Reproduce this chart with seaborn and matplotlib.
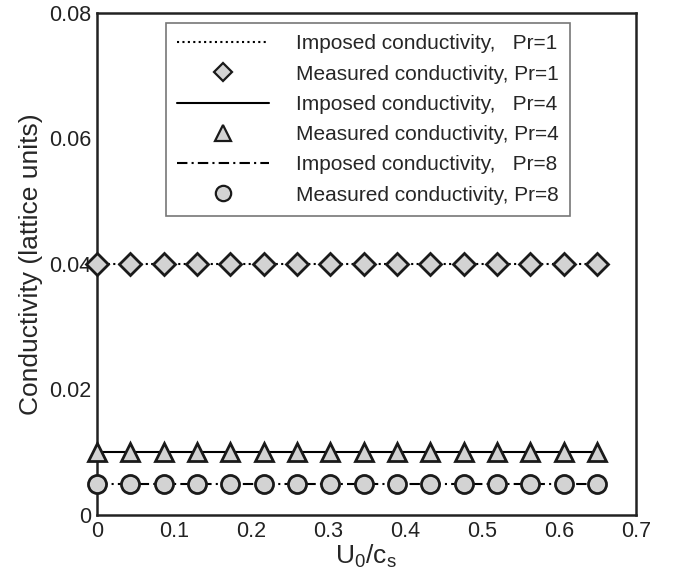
import numpy as np
import pandas as pd
import matplotlib
matplotlib.use("Agg")
import matplotlib.pyplot as plt
from matplotlib.ticker import MultipleLocator, FormatStrFormatter
import seaborn as sns

# data
u0_cs = [0.0, 0.0433, 0.0867, 0.13, 0.1733, 0.2167, 0.26, 0.3033,
         0.3467, 0.39, 0.4333, 0.4767, 0.52, 0.5633, 0.6067, 0.65]
prandtl = [1, 4, 8]
imposed = [0.04, 0.01, 0.005]
measured_pr1 = [0.04] * 16
measured_pr4 = [0.01] * 16
measured_pr8 = [0.005] * 16

sns.set_style("white")
plt.rcParams['font.family'] = ['Liberation Sans', 'DejaVu Sans']
plt.rcParams['mathtext.fontset'] = 'custom'
plt.rcParams['mathtext.rm'] = 'Liberation Sans'
plt.rcParams['mathtext.it'] = 'Liberation Sans'

fig = plt.figure(figsize=(6.77, 5.77), dpi=100)
ax = fig.add_axes([0.143, 0.1075, 0.796, 0.87])

grey = '#d3d3d3'
line_styles = [(0, (1, 1.6)), '-', (0, (5, 2, 1, 2))]
markers = ['D', '^', 'o']
msizes = [11, 13, 13]
measured = [measured_pr1, measured_pr4, measured_pr8]

handles = []
labels = []
for i, pr in enumerate(prandtl):
    df_line = pd.DataFrame({'x': u0_cs, 'y': [imposed[i]] * len(u0_cs)})
    sns.lineplot(data=df_line, x='x', y='y', ax=ax, color='black',
                 linewidth=1.5, linestyle=line_styles[i], zorder=2)
    ln = ax.lines[-1]
    df_pts = pd.DataFrame({'x': u0_cs, 'y': measured[i]})
    sns.lineplot(data=df_pts, x='x', y='y', ax=ax, linestyle='none',
                 marker=markers[i], markersize=msizes[i], markerfacecolor=grey,
                 markeredgecolor='#1a1a1a', markeredgewidth=2, zorder=3,
                 clip_on=False)
    mk = ax.lines[-1]
    handles += [ln, mk]
    labels += [f'Imposed conductivity,   Pr={pr}', f'Measured conductivity, Pr={pr}']

ax.set_xlim(0, 0.7)
ax.set_ylim(0, 0.08)
ax.xaxis.set_major_locator(MultipleLocator(0.1))
ax.xaxis.set_minor_locator(MultipleLocator(0.05))
ax.yaxis.set_major_locator(MultipleLocator(0.02))
ax.yaxis.set_minor_locator(MultipleLocator(0.005))
ax.xaxis.set_major_formatter(FormatStrFormatter('%g'))
ax.yaxis.set_major_formatter(FormatStrFormatter('%g'))
ax.tick_params(which='both', direction='in', top=False, right=False,
               labelsize=15.5, colors='#222222', labelcolor='#222222')
ax.tick_params(which='major', length=7, width=1.5, pad=4)
ax.tick_params(which='minor', length=4, width=1)
for s in ax.spines.values():
    s.set_linewidth(1.8)
    s.set_color('#222222')

ax.set_xlabel(r'U$_\mathregular{0}$/c$_\mathregular{s}$', fontsize=19, labelpad=1)
ax.set_ylabel('Conductivity (lattice units)', fontsize=19, labelpad=4)

leg = ax.legend(handles, labels, loc='upper left', bbox_to_anchor=(0.128, 0.98),
                fontsize=15, frameon=True, fancybox=False, edgecolor='#555555',
                handlelength=4.4, handletextpad=1.3, labelspacing=0.54,
                borderpad=0.55, borderaxespad=0)
leg.get_frame().set_linewidth(1.2)
for h in leg.legend_handles:
    h.set_markersize(h.get_markersize() * 0.85)
    h.set_markeredgewidth(1.6)

fig.savefig('out.png', dpi=100)
